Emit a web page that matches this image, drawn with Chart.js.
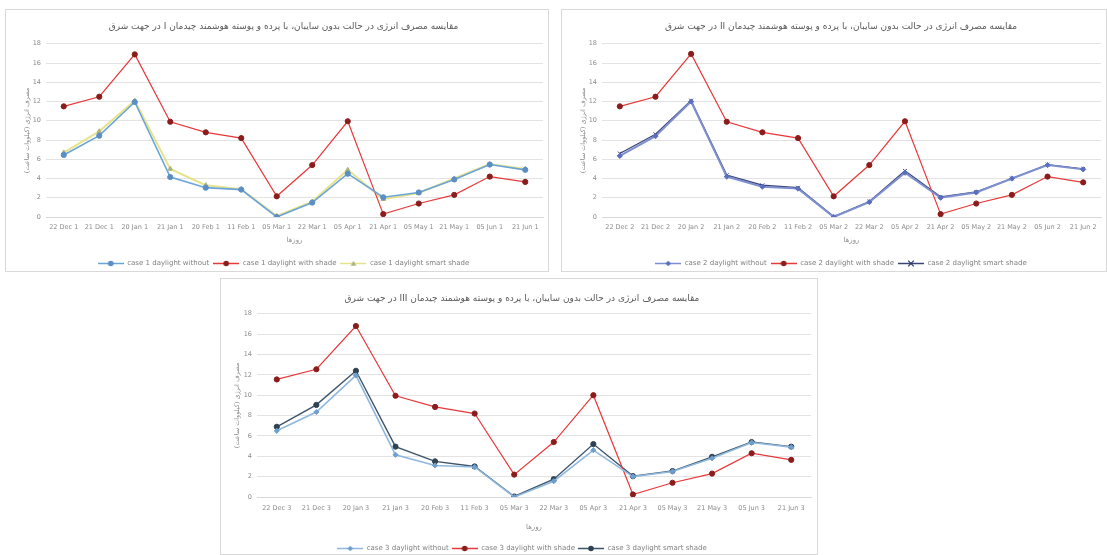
<!DOCTYPE html>
<html>
<head>
<meta charset="utf-8">
<script src="https://cdn.jsdelivr.net/npm/chart.js@4.4.1/dist/chart.umd.min.js"></script>
<style>
  html, body { margin: 0; padding: 0; background: #ffffff; }
  body { width: 1107px; height: 555px; position: relative; overflow: hidden; }
  .panel { position: absolute; background: #ffffff; border: 1px solid #d9d9d9; box-sizing: border-box; overflow: hidden; }
  .panel canvas { position: absolute; left: 0; top: 0; }
</style>
</head>
<body>
<div class="panel" id="p1" style="left:5px;top:9px;width:544px;height:263px;"><canvas id="c1"></canvas></div>
<div class="panel" id="p2" style="left:561px;top:9px;width:546px;height:263px;"><canvas id="c2"></canvas></div>
<div class="panel" id="p3" style="left:220px;top:278px;width:598px;height:277px;"><canvas id="c3"></canvas></div>
<script>
// Dates of the simulated days (shared x categories)
const days = ["22 Dec", "21 Dec", "20 Jan", "21 Jan", "20 Feb", "11 Feb", "05 Mar",
              "22 Mar", "05 Apr", "21 Apr", "05 May", "21 May", "05 Jun", "21 Jun"];

// Energy use (kWh) - layout I, east facade
const withoutI   = [6.45, 8.45, 11.95, 4.15, 3.05, 2.85, 0.0, 1.5, 4.5, 2.05, 2.55, 3.9, 5.45, 4.9];
const withShadeI = [11.5, 12.5, 16.9, 9.9, 8.8, 8.2, 2.15, 5.4, 9.95, 0.3, 1.4, 2.3, 4.2, 3.65];
const smartI     = [6.7, 8.9, 12.1, 5.0, 3.3, 2.9, 0.1, 1.6, 4.9, 1.85, 2.5, 4.0, 5.5, 5.0];

// Energy use (kWh) - layout II, east facade
const withoutII   = [6.35, 8.4, 12.0, 4.2, 3.15, 2.95, 0.0, 1.55, 4.6, 2.0, 2.55, 4.0, 5.4, 4.95];
const withShadeII = [11.5, 12.5, 16.95, 9.9, 8.8, 8.2, 2.15, 5.4, 9.95, 0.3, 1.4, 2.3, 4.2, 3.6];
const smartII     = [6.6, 8.6, 12.1, 4.35, 3.3, 3.05, 0.05, 1.6, 4.8, 2.1, 2.6, 4.0, 5.45, 5.0];

// Energy use (kWh) - layout III, east facade
const withoutIII   = [6.5, 8.35, 11.95, 4.15, 3.1, 2.95, 0.0, 1.55, 4.6, 2.0, 2.5, 3.8, 5.35, 4.9];
const withShadeIII = [11.55, 12.55, 16.8, 9.95, 8.85, 8.2, 2.2, 5.4, 10.0, 0.25, 1.4, 2.3, 4.3, 3.65];
const smartIII     = [6.9, 9.05, 12.4, 4.95, 3.5, 3.0, 0.05, 1.75, 5.2, 2.05, 2.55, 3.95, 5.4, 4.95];

// Persian text, wrapped in a right-to-left embedding for the canvas
const rtl = (s) => "\u202B" + s + "\u202C";
const titleStart = "مقایسه مصرف انرژی در حالت بدون سایبان، با پرده و پوسته هوشمند چیدمان ";
const titleEnd = " در جهت شرق";
const yTitle = rtl("مصرف انرژی (کیلووات ساعت)");
const xTitle = rtl("روزها");
const seriesNames = ["daylight without", "daylight with shade", "daylight smart shade"];

const FONT = "'DejaVu Sans', 'Noto Sans', sans-serif";

// Small line+marker swatch used in the legend
function swatch(lineColor, markerStyle, markerColor) {
  const c = document.createElement('canvas');
  c.width = 26; c.height = 9;
  const g = c.getContext('2d');
  g.strokeStyle = lineColor; g.lineWidth = 1.5;
  g.beginPath(); g.moveTo(0, 4.5); g.lineTo(26, 4.5); g.stroke();
  g.fillStyle = markerColor; g.strokeStyle = markerColor;
  const cx = 13, cy = 4.5, r = 2.8;
  g.beginPath();
  if (markerStyle === 'rectRot') {
    g.moveTo(cx, cy - r); g.lineTo(cx + r, cy); g.lineTo(cx, cy + r); g.lineTo(cx - r, cy); g.closePath(); g.fill();
  } else if (markerStyle === 'triangle') {
    g.moveTo(cx, cy - r); g.lineTo(cx + r, cy + r * 0.8); g.lineTo(cx - r, cy + r * 0.8); g.closePath(); g.fill();
  } else if (markerStyle === 'crossRot') {
    g.lineWidth = 1.2;
    g.moveTo(cx - r, cy - r); g.lineTo(cx + r, cy + r); g.moveTo(cx + r, cy - r); g.lineTo(cx - r, cy + r); g.stroke();
  } else {
    g.arc(cx, cy, r, 0, Math.PI * 2); g.fill();
  }
  return c;
}

function series(label, data, line, marker, style, width) {
  return {
    label, data,
    borderColor: line, borderWidth: width || 1.2,
    backgroundColor: marker, pointBackgroundColor: marker, pointBorderColor: marker,
    pointStyle: style, pointRadius: 2.6, pointBorderWidth: 1,
    tension: 0, fill: false,
    _icon: swatch(line, style, marker)
  };
}

function build(canvasId, w, h, num, layoutName, sets, box) {
  const cv = document.getElementById(canvasId);
  cv.width = w; cv.height = h;
  cv.style.width = w + 'px'; cv.style.height = h + 'px';
  return new Chart(cv, {
    type: 'line',
    data: {
      labels: days.map(d => d + ' ' + num),
      datasets: sets
    },
    options: {
      responsive: false,
      animation: false,
      devicePixelRatio: 1,
      layout: { padding: { top: box.padTop, left: box.padLeft, right: box.padRight, bottom: box.padBottom } },
      plugins: {
        tooltip: { enabled: false },
        title: {
          display: true,
          text: rtl(titleStart + layoutName + titleEnd),
          color: '#595959',
          font: { family: FONT, size: 9, weight: 'normal' },
          padding: { top: box.titleTop, bottom: box.titleBottom }
        },
        legend: {
          position: 'bottom',
          labels: {
            usePointStyle: true,
            pointStyleWidth: 26,
            boxHeight: 8,
            padding: box.legendPad,
            color: '#7f7f7f',
            font: { family: FONT, size: 7 },
            generateLabels: (chart) => chart.data.datasets.map((ds, i) => ({
              text: ds.label,
              pointStyle: ds._icon,
              fillStyle: ds.borderColor,
              strokeStyle: ds.borderColor,
              fontColor: '#7f7f7f',
              lineWidth: 0,
              hidden: false,
              datasetIndex: i
            }))
          }
        }
      },
      scales: {
        x: {
          offset: true,
          grid: { display: false, drawTicks: false, offset: true },
          border: { display: true, color: '#d9d9d9' },
          ticks: { color: '#8c8c8c', font: { family: FONT, size: 6.5 }, maxRotation: 0, autoSkip: false, padding: box.tickPad },
          title: { display: true, text: xTitle, color: '#8c8c8c', font: { family: FONT, size: 7 }, padding: { top: 2, bottom: box.xTitleBottom } },
          afterFit: (s) => { s.height = box.xHeight; }
        },
        y: {
          min: 0, max: 18,
          grid: { color: '#e3e3e3', lineWidth: 1, drawTicks: false },
          border: { display: false },
          ticks: { stepSize: 2, color: '#8c8c8c', font: { family: FONT, size: 6.5 }, padding: 5 },
          title: { display: true, text: yTitle, color: '#8c8c8c', font: { family: FONT, size: 6.5 }, padding: 0 },
          afterFit: (s) => { s.width = box.yWidth; }
        }
      }
    }
  });
}

const RED = '#e8393a', RED_DOT = '#8a1c1c';

// Layout I
build('c1', 542, 267, 1, 'I', [
  series('case 1 ' + seriesNames[0], withoutI, '#6aa5d8', '#5b8fc4', 'circle', 1.6),
  series('case 1 ' + seriesNames[1], withShadeI, RED, RED_DOT, 'circle'),
  series('case 1 ' + seriesNames[2], smartI, 'rgba(226,222,120,0.85)', '#a9b47e', 'triangle', 2)
], { padTop: 3, padLeft: 17, padRight: 4, padBottom: 0, titleTop: 8, titleBottom: 12, legendPad: 4,
     xHeight: 39, xTitleBottom: 12, tickPad: 6, yWidth: 23 });

// Layout II
build('c2', 544, 267, 2, 'II', [
  series('case 2 ' + seriesNames[0], withoutII, '#7d8fd0', '#5a6fbe', 'rectRot', 2),
  series('case 2 ' + seriesNames[1], withShadeII, RED, RED_DOT, 'circle'),
  series('case 2 ' + seriesNames[2], smartII, '#3b4478', '#2e3766', 'crossRot', 1.3)
], { padTop: 3, padLeft: 17, padRight: 3, padBottom: 0, titleTop: 8, titleBottom: 12, legendPad: 4,
     xHeight: 39, xTitleBottom: 12, tickPad: 6, yWidth: 23 });

// Layout III
build('c3', 596, 283, 3, 'III', [
  series('case 3 ' + seriesNames[0], withoutIII, '#8fb8de', '#6f9fcf', 'rectRot', 1.6),
  series('case 3 ' + seriesNames[1], withShadeIII, RED, RED_DOT, 'circle'),
  series('case 3 ' + seriesNames[2], smartIII, '#3e5468', '#2f4152', 'circle', 1.4)
], { padTop: 6, padLeft: 12, padRight: 6, padBottom: 0, titleTop: 8, titleBottom: 10, legendPad: 3,
     xHeight: 45, xTitleBottom: 11, tickPad: 7, yWidth: 24 });
</script>
</body>
</html>
